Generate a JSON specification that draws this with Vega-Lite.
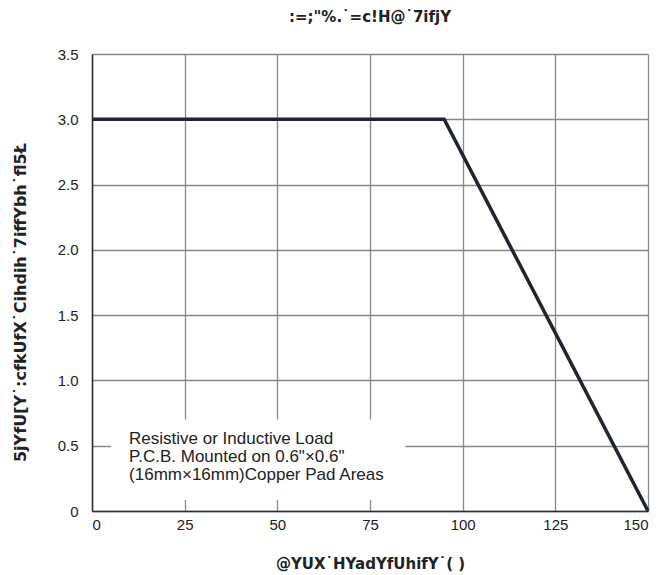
{
  "$schema": "https://vega.github.io/schema/vega-lite/v6.json",
  "autosize": "none",
  "width": 556,
  "height": 457,
  "padding": {"left": 92, "top": 54, "right": 14, "bottom": 64},
  "background": "white",
  "config": {
    "view": {"stroke": null},
    "font": "Liberation Sans",
    "axis": {
      "grid": true,
      "gridColor": "#85888e",
      "gridWidth": 1.3,
      "gridOpacity": 1,
      "ticks": false,
      "domainColor": "#2a2e35",
      "domainWidth": 1.5,
      "labelFont": "Liberation Sans",
      "labelFontSize": 15,
      "labelColor": "#222222",
      "titleFont": "DejaVu Sans",
      "titleFontSize": 15,
      "titleFontWeight": "bold",
      "titleColor": "#222222"
    }
  },
  "title": {
    "text": ":=;\"%.˙=c!H@˙7ifjY",
    "font": "DejaVu Sans",
    "fontSize": 15,
    "fontWeight": "bold",
    "color": "#222222",
    "anchor": "middle",
    "offset": 22
  },
  "layer": [
    {
      "data": {"values": [
        {"temp": 0, "current": 3.0},
        {"temp": 95, "current": 3.0},
        {"temp": 150, "current": 0}
      ]},
      "mark": {"type": "line", "color": "#1f2530", "strokeWidth": 3.5, "clip": false},
      "encoding": {
        "x": {
          "field": "temp", "type": "quantitative",
          "scale": {"domain": [0, 150], "nice": false},
          "axis": {"values": [0, 25, 50, 75, 100, 125, 150], "labelPadding": 6,
                   "title": "@YUX˙HYadYfUhifY˙(     )", "titleY": 52, "titleBaseline": "middle"}
        },
        "y": {
          "field": "current", "type": "quantitative",
          "scale": {"domain": [0, 3.5], "nice": false},
          "axis": {"values": [0, 0.5, 1, 1.5, 2, 2.5, 3, 3.5], "labelPadding": 14,
                   "labelExpr": "datum.value == 0 ? '0' : format(datum.value, '.1f')",
                   "title": "5jYfU[Y˙:cfkUfX˙Cihdih˙7iffYbh˙fl5Ł", "titleX": -72, "titleY": 248,
                   "titleFontSize": 16, "titleBaseline": "middle"}
        }
      }
    },
    {
      "data": {"values": [{"x1": 5.1, "x2": 84.5, "y1": 0.085, "y2": 0.7}]},
      "mark": {"type": "rect", "fill": "white"},
      "encoding": {
        "x": {"field": "x1", "type": "quantitative"},
        "x2": {"field": "x2"},
        "y": {"field": "y1", "type": "quantitative"},
        "y2": {"field": "y2"}
      }
    },
    {
      "data": {"values": [{"x": 10.0, "y": 0.55, "label": ["Resistive or Inductive Load", "P.C.B. Mounted on 0.6\"×0.6\"", "(16mm×16mm)Copper Pad Areas"]}]},
      "mark": {"type": "text", "align": "left", "baseline": "middle", "fontSize": 17, "lineHeight": 18, "color": "#222222", "font": "Liberation Sans"},
      "encoding": {
        "x": {"field": "x", "type": "quantitative"},
        "y": {"field": "y", "type": "quantitative"},
        "text": {"field": "label"}
      }
    }
  ]
}
